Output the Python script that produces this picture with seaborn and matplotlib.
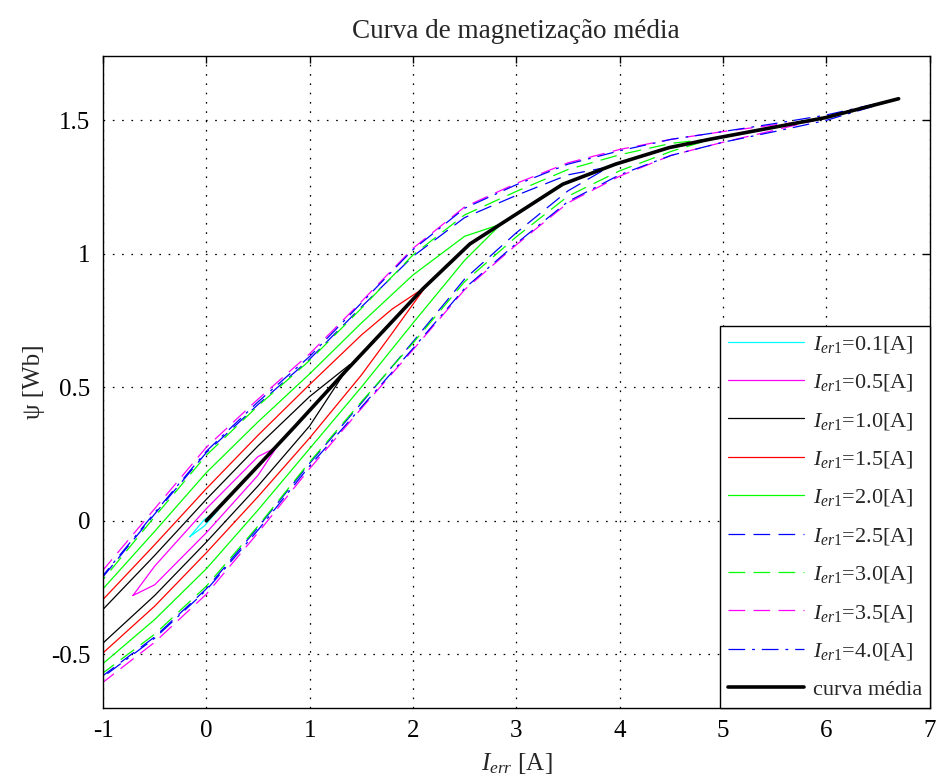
import numpy as np
import pandas as pd
import matplotlib
matplotlib.use("Agg")
import matplotlib.pyplot as plt
import seaborn as sns

# ---- data: magnetisation loops psi(I) for each excitation level ----
# each loop: current points, ascending (lower) branch, descending (upper) branch
loop01_I = [-0.16, -0.02, 0.12]
loop01_lo = [-0.060, -0.020, 0.042]
loop01_up = [-0.060, 0.004, 0.042]

loop05_I = [-0.71, -0.5, 0.0, 0.5, 0.68]
loop05_lo = [-0.280, -0.240, -0.045, 0.170, 0.275]
loop05_up = [-0.280, -0.170, 0.045, 0.240, 0.275]

loop10_I = [-1.2, -1.0, -0.5, 0.0, 0.5, 1.0, 1.39]
loop10_lo = [-0.530, -0.458, -0.280, -0.080, 0.130, 0.355, 0.585]
loop10_up = [-0.410, -0.332, -0.130, 0.080, 0.280, 0.465, 0.585]

loop15_I = [-1.2, -1.0, -0.5, 0.0, 0.5, 1.0, 1.5, 1.8, 2.12]
loop15_lo = [-0.570, -0.495, -0.320, -0.120, 0.090, 0.310, 0.545, 0.703, 0.875]
loop15_up = [-0.370, -0.295, -0.090, 0.120, 0.320, 0.510, 0.695, 0.793, 0.875]

loop20_I = [-1.2, -1.0, -0.5, 0.0, 0.5, 1.0, 1.5, 2.0, 2.5, 2.85]
loop20_lo = [-0.605, -0.535, -0.370, -0.180, 0.040, 0.270, 0.500, 0.740, 0.975, 1.110]
loop20_up = [-0.335, -0.255, -0.040, 0.180, 0.370, 0.550, 0.740, 0.920, 1.065, 1.110]

loop25_I = [-1.2, -1.0, -0.5, 0.0, 0.5, 1.0, 1.5, 2.0, 2.5, 3.0, 3.5, 3.9]
loop25_lo = [-0.650, -0.580, -0.435, -0.255, -0.025, 0.215, 0.440, 0.670, 0.905, 1.078, 1.235, 1.325]
loop25_up = [-0.290, -0.210, 0.025, 0.255, 0.435, 0.605, 0.800, 0.990, 1.135, 1.218, 1.295, 1.325]

loop30_I = [-1.2, -1.0, -0.5, 0.0, 0.5, 1.0, 1.5, 2.0, 2.5, 3.0, 3.5, 4.0, 4.5, 4.9]
loop30_lo = [-0.640, -0.570, -0.425, -0.245, -0.020, 0.220, 0.445, 0.665, 0.895, 1.063, 1.215, 1.310, 1.383, 1.430]
loop30_up = [-0.300, -0.220, 0.015, 0.245, 0.430, 0.600, 0.795, 0.995, 1.145, 1.233, 1.315, 1.370, 1.413, 1.430]

loop35_I = [-1.2, -1.0, -0.5, 0.0, 0.5, 1.0, 1.5, 2.0, 2.5, 3.0, 3.5, 4.0, 4.5, 5.0, 5.5, 5.9]
loop35_lo = [-0.675, -0.605, -0.455, -0.275, -0.045, 0.195, 0.420, 0.640, 0.865, 1.033, 1.190, 1.290, 1.368, 1.417, 1.462, 1.500]
loop35_up = [-0.265, -0.185, 0.045, 0.275, 0.455, 0.625, 0.820, 1.020, 1.175, 1.263, 1.340, 1.390, 1.428, 1.457, 1.482, 1.500]

loop40_I = [-1.2, -1.0, -0.5, 0.0, 0.5, 1.0, 1.5, 2.0, 2.5, 3.0, 3.5, 4.0, 4.5, 5.0, 5.5, 6.0, 6.7]
loop40_lo = [-0.655, -0.585, -0.440, -0.260, -0.035, 0.205, 0.425, 0.645, 0.870, 1.038, 1.195, 1.295, 1.368, 1.417, 1.457, 1.499, 1.580]
loop40_up = [-0.285, -0.205, 0.030, 0.260, 0.445, 0.615, 0.815, 1.015, 1.170, 1.258, 1.335, 1.385, 1.428, 1.457, 1.487, 1.519, 1.580]

# average magnetisation curve
mean_I = [0.0, 0.5, 0.855, 1.355, 2.095, 2.55, 3.0, 3.45, 3.96, 4.48, 4.87, 5.99, 6.70]
mean_psi = [0.0, 0.205, 0.352, 0.563, 0.868, 1.036, 1.148, 1.26, 1.335, 1.397, 1.428, 1.509, 1.58]

levels = ["0.1", "0.5", "1.0", "1.5", "2.0", "2.5", "3.0", "3.5", "4.0"]
x_ticks = [-1, 0, 1, 2, 3, 4, 5, 6, 7]
y_ticks = [-0.5, 0, 0.5, 1, 1.5]
y_tick_labels = ["-0.5", "0", "0.5", "1", "1.5"]

dashed = (0, (12, 6))
dashdot = (0, (12, 5, 2, 5))
loops = [
    (loop01_I, loop01_lo, loop01_up, "#00ffff", "-"),
    (loop05_I, loop05_lo, loop05_up, "#ff00ff", "-"),
    (loop10_I, loop10_lo, loop10_up, "#000000", "-"),
    (loop15_I, loop15_lo, loop15_up, "#ff0000", "-"),
    (loop20_I, loop20_lo, loop20_up, "#00ff00", "-"),
    (loop25_I, loop25_lo, loop25_up, "#0000ff", dashed),
    (loop30_I, loop30_lo, loop30_up, "#00ff00", dashed),
    (loop35_I, loop35_lo, loop35_up, "#ff00ff", dashed),
    (loop40_I, loop40_lo, loop40_up, "#0000ff", dashdot),
]

# ---- style ----
sns.set_theme(style="white")
plt.rcParams["font.family"] = ["Liberation Serif", "DejaVu Serif"]
plt.rcParams["mathtext.fontset"] = "custom"
plt.rcParams["mathtext.rm"] = "Liberation Serif"
plt.rcParams["mathtext.it"] = "Liberation Serif:italic"
plt.rcParams["lines.scale_dashes"] = False

fig = plt.figure(figsize=(9.39, 7.83), dpi=100)
ax = fig.add_axes([0.1097, 0.0962, 0.8803, 0.8323])

for (I, lo, up, color, ls), lev in zip(loops, levels):
    path_I = list(I) + list(I)[::-1]
    path_psi = list(lo) + list(up)[::-1]
    sns.lineplot(x=path_I, y=path_psi, sort=False, estimator=None, color=color,
                 linestyle=ls, linewidth=0.9, ax=ax,
                 label=r"$I_{er1}$=" + lev + "[A]")

sns.lineplot(x=mean_I, y=mean_psi, sort=False, estimator=None, color="black",
             linewidth=2.6, ax=ax, label="curva média")

ax.set_xlim(-1, 7)
ax.set_ylim(-0.7, 1.74)
ax.set_xticks(x_ticks)
ax.set_xticklabels([str(t) for t in x_ticks])
ax.set_yticks(y_ticks)
ax.set_yticklabels(y_tick_labels)
ax.grid(True, color="black", linestyle=(0, (1.2, 5.5)), linewidth=0.9)
ax.tick_params(direction="in", top=True, right=True, length=5, width=1,
               labelsize=18, pad=9, colors="black")
for s in ax.spines.values():
    s.set_color("black")
    s.set_linewidth(1.0)

ax.set_title("Curva de magnetização média", fontsize=19.5, pad=13)
ax.set_xlabel(r"$I_{err}$ [A]", fontsize=18, labelpad=6)
ax.set_ylabel("ψ [Wb]", fontsize=18, labelpad=4)

leg = ax.legend(loc="lower right", bbox_to_anchor=(1.0, 0.0), borderaxespad=0.0,
                fontsize=16, frameon=True, fancybox=False, framealpha=1,
                edgecolor="black", handlelength=3.4, handletextpad=0.4,
                labelspacing=0.78, borderpad=0.35)
leg.get_frame().set_linewidth(1.0)

fig.savefig("out.png", dpi=100, facecolor="white")
